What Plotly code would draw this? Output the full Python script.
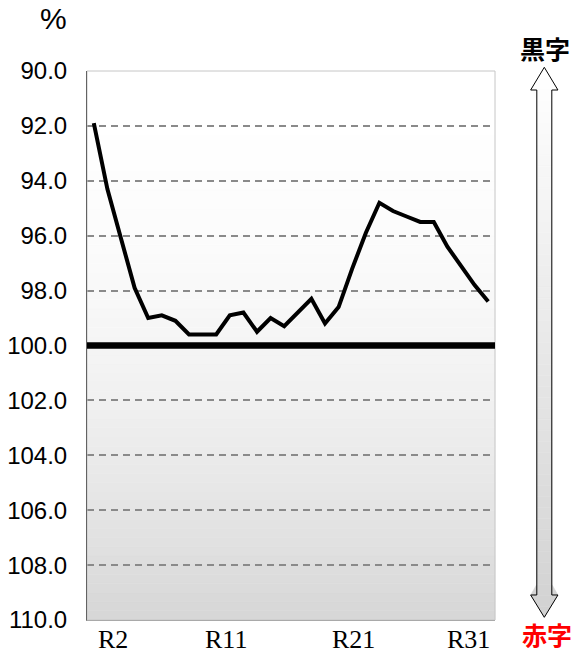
import plotly.graph_objects as go

# ---- data ----
years = ["R%d" % n for n in range(2, 32)]
values = [91.9, 94.3, 96.1, 97.9, 99.0, 98.9, 99.1, 99.6, 99.6, 99.6,
          98.9, 98.8, 99.5, 99.0, 99.3, 98.8, 98.3, 99.2, 98.6, 97.2,
          95.9, 94.8, 95.1, 95.3, 95.5, 95.5, 96.4, 97.1, 97.8, 98.4]
tick_labels = ["R2", "R11", "R21", "R31"]
y_ticks = [90, 92, 94, 96, 98, 100, 102, 104, 106, 108, 110]
grid_vals = [92, 94, 96, 98, 102, 104, 106, 108]
baseline = 100.0

# ---- geometry (pixels, page has an 8px body margin) ----
OFF = 8
W, H = 573, 649
L, T = 79, 63
PW, PH = 408, 549
R = W - L - PW
B = H - T - PH


def px(x):
    return (x - OFF - L) / PW


def py(y):
    return (H - B - (y - OFF)) / PH


fig = go.Figure()
fig.add_trace(go.Scatter(x=years, y=values, mode="lines",
                         line=dict(color="black", width=4),
                         hoverinfo="skip", showlegend=False))

shapes = []
# plot-area gradient background
N = 60
for i in range(N):
    t0, t1 = i / N, (i + 1) / N
    tm = (t0 + t1) / 2
    c = int(round(255 - 41 * tm ** 2))
    col = "rgb(%d,%d,%d)" % (c, c, c)
    shapes.append(dict(type="rect", xref="x domain", yref="y domain",
                       x0=0, x1=1, y0=1 - t1, y1=1 - t0,
                       fillcolor=col, line=dict(color=col, width=0.5),
                       layer="below"))
# plot border
shapes.append(dict(type="rect", xref="paper", yref="paper", x0=0, x1=1, y0=0, y1=1,
                   line=dict(color="#c6c6c6", width=1), layer="above"))
# thick 100 line
shapes.append(dict(type="line", xref="x domain", yref="y", x0=0, x1=1,
                   y0=baseline, y1=baseline, line=dict(color="black", width=6.5)))

# double arrow on the right, gradient filled
cx = 544.3
tip_top, head_top, head_bot, tip_bot = 67.3, 90.0, 595.0, 617.3
hw_head, hw_shaft = 13.65, 7.5


def half_w(y):
    if y <= head_top:
        return hw_head * (y - tip_top) / (head_top - tip_top)
    if y >= head_bot:
        return hw_head * (tip_bot - y) / (tip_bot - head_bot)
    return hw_shaft


M = 50
for i in range(M):
    ya = tip_top + (tip_bot - tip_top) * i / M
    yb = tip_top + (tip_bot - tip_top) * (i + 1) / M
    ys = [ya] + [b for b in (head_top, head_bot) if ya < b < yb] + [yb]
    left = [(cx - half_w(y), y) for y in ys]
    right = [(cx + half_w(y), y) for y in reversed(ys)]
    pts = left + right
    tm = ((ya + yb) / 2 - tip_top) / (tip_bot - tip_top)
    c = int(round(255 - 45 * tm))
    col = "rgb(%d,%d,%d)" % (c, c, c)
    path = "M " + " L ".join("%.5f,%.5f" % (px(x), py(y)) for x, y in pts) + " Z"
    shapes.append(dict(type="path", xref="paper", yref="paper", path=path,
                       fillcolor=col, line=dict(color=col, width=0.5), layer="above"))
outline = [(cx, tip_top), (cx + hw_head, head_top), (cx + hw_shaft, head_top),
           (cx + hw_shaft, head_bot), (cx + hw_head, head_bot), (cx, tip_bot),
           (cx - hw_head, head_bot), (cx - hw_shaft, head_bot), (cx - hw_shaft, head_top),
           (cx - hw_head, head_top)]
shapes.append(dict(type="path", xref="paper", yref="paper",
                   path="M " + " L ".join("%.5f,%.5f" % (px(x), py(y)) for x, y in outline) + " Z",
                   line=dict(color="black", width=1), fillcolor="rgba(0,0,0,0)", layer="above"))

annotations = []
label_px = [113, 226, 353, 468]
for lab, xp in zip(tick_labels, label_px):
    annotations.append(dict(text=lab, xref="paper", yref="paper", x=px(xp), y=py(640),
                            xanchor="center", yanchor="middle", showarrow=False,
                            font=dict(family="Liberation Serif", size=26, color="black")))
annotations.append(dict(text="%", xref="paper", yref="paper", x=px(53.5), y=py(18),
                        xanchor="center", yanchor="middle", showarrow=False,
                        font=dict(family="Liberation Sans", size=30, color="black")))
annotations.append(dict(text="<b>黒字</b>", xref="paper", yref="paper", x=px(545), y=py(48),
                        xanchor="center", yanchor="middle", showarrow=False,
                        font=dict(family="Noto Sans CJK JP", size=25, color="black")))
annotations.append(dict(text="<b>赤字</b>", xref="paper", yref="paper", x=px(546.5), y=py(634),
                        xanchor="center", yanchor="middle", showarrow=False,
                        font=dict(family="Noto Sans CJK JP", size=25, color="#ff0000")))

fig.update_layout(
    width=W, height=H,
    margin=dict(l=L, r=R, t=T, b=B, pad=0, autoexpand=False),
    paper_bgcolor="white", plot_bgcolor="white",
    shapes=shapes, annotations=annotations,
    showlegend=False,
    xaxis=dict(type="category", categoryorder="array", categoryarray=years,
               range=[-0.5, len(years) - 0.5], showticklabels=False,
               showgrid=False, zeroline=False, showline=True, automargin=False,
               linecolor="#8c8c8c", linewidth=1, ticks=""),
    yaxis=dict(range=[110, 90], tickvals=y_ticks,
               ticktext=["%.1f" % v for v in y_ticks],
               showgrid=False, zeroline=False, showline=True, automargin=False,
               linecolor="black", linewidth=1,
               ticks="outside", ticklen=14, tickcolor="rgba(0,0,0,0)",
               tickfont=dict(family="Liberation Sans", size=24, color="black"),
               minor=dict(tickvals=grid_vals, showgrid=True, gridcolor="#8a8a8a",
                          gridwidth=1.5, griddash="7px,5px", ticks="")),
)

fig.write_html("out.html")
